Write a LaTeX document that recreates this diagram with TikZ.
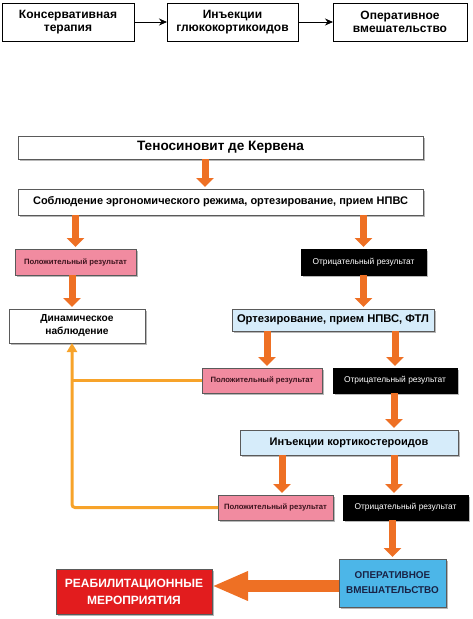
\documentclass[tikz,border=0pt]{standalone}
\usepackage{fontspec}
\setmainfont{Liberation Sans}
\usetikzlibrary{arrows.meta,shadows,calc}
\definecolor{org}{RGB}{238,112,36}
\definecolor{fbc}{RGB}{247,163,42}
\definecolor{pinkc}{RGB}{241,139,160}
\definecolor{lblue}{RGB}{214,236,250}
\definecolor{sblue}{RGB}{76,182,232}
\definecolor{redc}{RGB}{226,28,30}
\definecolor{navy}{RGB}{25,35,70}
\definecolor{bord}{RGB}{90,90,90}
\tikzset{
  box/.style={rectangle, inner sep=1pt, outer sep=0pt, align=center},
  topbox/.style={box, draw=black, line width=0.8pt, font=\fontsize{12}{13.5}\selectfont\bfseries},
  sbox/.style={box, draw=bord, line width=0.7pt,
    drop shadow={shadow xshift=1.5pt, shadow yshift=-1.5pt, fill=gray!70, opacity=0.8}},
  whitebox/.style={sbox, fill=white},
  pinkbox/.style={sbox, fill=pinkc, text={rgb,255:red,60;green,20;blue,30},
    font=\fontsize{7.7}{9}\selectfont\bfseries},
  blackbox/.style={sbox, fill=black, draw=black, text=white, font=\fontsize{8.4}{9}\selectfont},
  lbluebox/.style={sbox, fill=lblue, font=\fontsize{11}{13}\selectfont\bfseries},
  operbox/.style={sbox, fill=sblue, text=navy, font=\fontsize{9.9}{15}\selectfont\bfseries},
  redbox/.style={sbox, fill=redc, text=white, font=\fontsize{12}{17}\selectfont\bfseries},
  blk/.style={draw=black, line width=0.8pt, -{Stealth[length=8pt,width=7pt]}},
  oarrow/.style={draw=org, line width=7pt, -{Triangle[width=17pt,length=9pt]}},
  bigarrow/.style={draw=org, line width=12pt, -{Triangle[width=27pt,length=36pt]}},
  fbline/.style={draw=fbc, line width=3pt},
  fbarrow/.style={fbline, -{Triangle[width=10pt,length=9pt]}},
}
\begin{document}
\begin{tikzpicture}[x=1pt,y=-1pt]
\useasboundingbox (0,0) rectangle (472,619);
% top row
\node[topbox, minimum width=132pt, minimum height=38pt] (t1) at (68,22) {Консервативная\\терапия};
\node[topbox, minimum width=131pt, minimum height=38pt] (t2) at (232.5,22) {Инъекции\\глюкокортикоидов};
\node[topbox, minimum width=134pt, minimum height=38pt] (t3) at (400,22) {Оперативное\\вмешательство};
\draw[blk] (t1) -- (t2);
\draw[blk] (t2) -- (t3);
% algorithm
\node[whitebox, minimum width=405pt, minimum height=23pt, font=\fontsize{13.6}{15}\selectfont\bfseries] (title) at (220.5,147.5) {Теносиновит де Кервена};
\node[whitebox, minimum width=405pt, minimum height=26pt, font=\fontsize{11}{12}\selectfont\bfseries] (s1) at (220.5,202) {Соблюдение эргономического режима, ортезирование, прием НПВС};
\node[pinkbox, minimum width=121pt, minimum height=26pt] (p1) at (75.5,262) {Положительный результат};
\node[blackbox, minimum width=125pt, minimum height=26pt] (n1) at (363.5,262) {Отрицательный результат};
\node[whitebox, minimum width=136pt, minimum height=34pt, font=\fontsize{10.2}{13}\selectfont\bfseries] (dyn) at (77,326) {Динамическое\\наблюдение};
\node[lbluebox, minimum width=202pt, minimum height=22pt, font=\fontsize{11.2}{13}\selectfont\bfseries] (o1) at (333,320) {Ортезирование, прием НПВС, ФТЛ};
\node[pinkbox, minimum width=120pt, minimum height=25pt] (p2) at (262,380.5) {Положительный результат};
\node[blackbox, minimum width=124pt, minimum height=25pt] (n2) at (395,380.5) {Отрицательный результат};
\node[lbluebox, minimum width=218pt, minimum height=25pt] (inj) at (349,442.5) {Инъекции кортикостероидов};
\node[pinkbox, minimum width=115pt, minimum height=25pt] (p3) at (275.5,507.5) {Положительный результат};
\node[blackbox, minimum width=125pt, minimum height=25pt] (n3) at (405.5,507.5) {Отрицательный результат};
\node[operbox, minimum width=107pt, minimum height=48pt] (oper) at (392.5,583) {ОПЕРАТИВНОЕ\\ВМЕШАТЕЛЬСТВО};
\node[redbox, minimum width=156pt, minimum height=45pt] (red) at (134,591.5) {РЕАБИЛИТАЦИОННЫЕ\\МЕРОПРИЯТИЯ};
% x positions of arrows
\coordinate (xa) at (205,0);
\coordinate (xb) at (72,0);
\coordinate (xc) at (267,0);
\coordinate (xd) at (282,0);
\coordinate (xe) at (394,0);
\coordinate (ya) at (0,586);
% orange arrows
\draw[oarrow] (title.south -| xa) -- ($(s1.north -| xa)+(0,-2)$);
\draw[oarrow] (s1.south -| p1.north) -- ($(p1.north)+(0,-2)$);
\draw[oarrow] (s1.south -| n1.north) -- ($(n1.north)+(0,-2)$);
\draw[oarrow] (p1.south -| xb) -- ($(dyn.north -| xb)+(0,-2)$);
\draw[oarrow] (n1.south) -- ($(n1.south |- o1.north)+(0,-2)$);
\draw[oarrow] (o1.south -| xc) -- ($(p2.north -| xc)+(0,-2)$);
\draw[oarrow] (o1.south -| n2.north) -- ($(n2.north)+(0,-2)$);
\draw[oarrow] (n2.south -| xe) -- ($(inj.north -| xe)+(0,-2)$);
\draw[oarrow] (inj.south -| xd) -- ($(p3.north -| xd)+(0,-2)$);
\draw[oarrow] (inj.south -| xe) -- ($(n3.north -| xe)+(0,-2)$);
\draw[oarrow] (n3.south -| oper.north) -- ($(oper.north)+(0,-2)$);
\draw[bigarrow] (oper.west |- ya) -- (red.east |- ya);
% feedback
\draw[fbline] (p2.west) -- (p2.west -| xb);
\draw[fbarrow, rounded corners=3pt] (p3.west) -| (dyn.south -| xb);
\end{tikzpicture}
\end{document}
